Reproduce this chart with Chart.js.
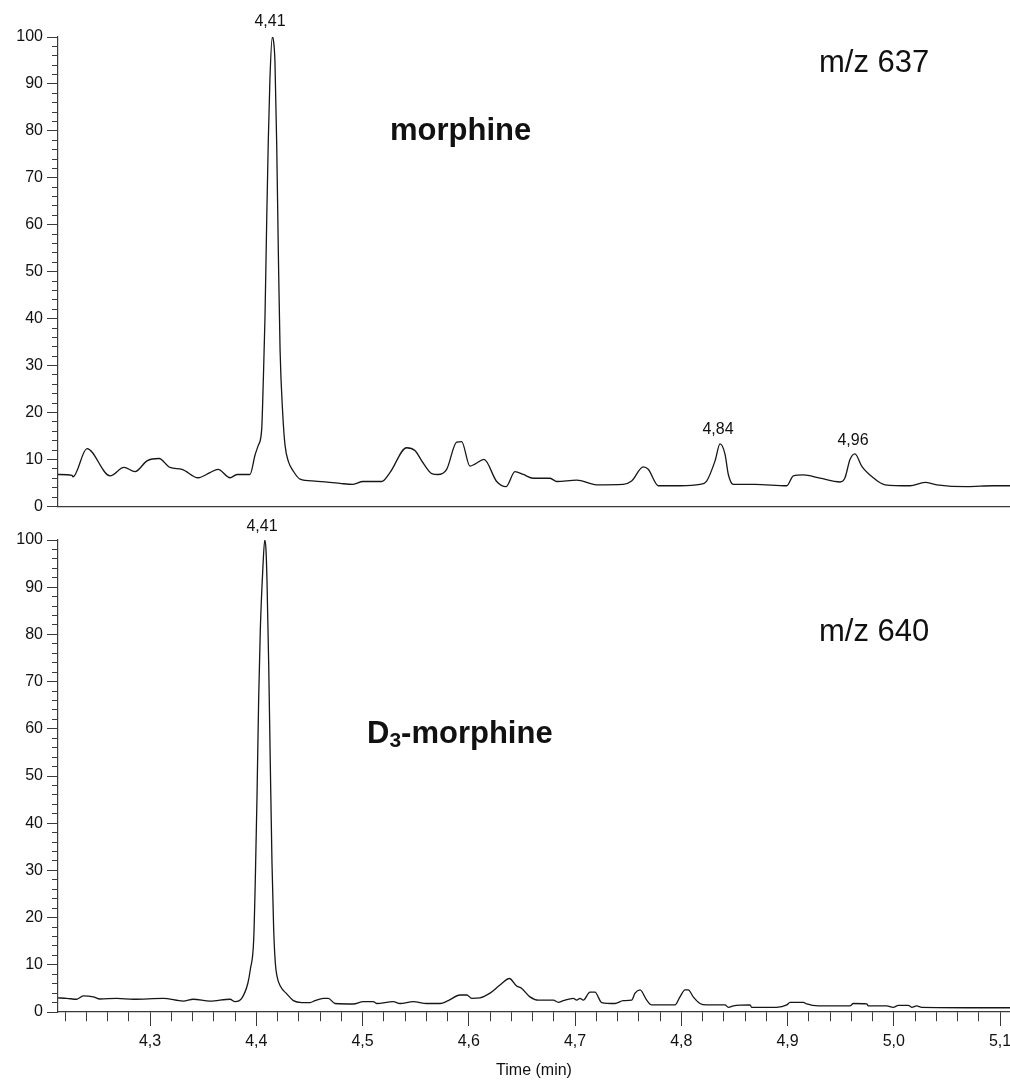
<!DOCTYPE html>
<html>
<head>
<meta charset="utf-8">
<title>morphine / D3-morphine chromatograms</title>
<script src="https://cdn.jsdelivr.net/npm/chart.js@4.4.1/dist/chart.umd.min.js"></script>
<style>
  html, body { margin: 0; padding: 0; background: #fff; overflow: hidden; }
  #wrap { position: relative; width: 1010px; height: 1082px; overflow: hidden; font-family: "Liberation Sans", Arial, sans-serif; color: #111; }
  canvas { position: absolute; left: 0; }
  #cTop { top: 0; }
  #cBot { top: 500px; }
  .lbl { position: absolute; line-height: 1; white-space: nowrap; }
  .rt  { font-size: 16px; transform: translateX(-50%); }
  .mz  { font-size: 31px; }
  .cmp { font-size: 31px; font-weight: bold; }
  .cmp span { font-size: 21px; position: relative; top: 4px; }
</style>
</head>
<body>
<div id="wrap">
  <canvas id="cTop" width="1030" height="520"></canvas>
  <canvas id="cBot" width="1030" height="582"></canvas>

  <div class="lbl rt" style="left:270px; top:13px;">4,41</div>
  <div class="lbl rt" style="left:718px; top:421px;">4,84</div>
  <div class="lbl rt" style="left:853px; top:432px;">4,96</div>
  <div class="lbl mz" style="left:819px; top:46px;">m/z 637</div>
  <div class="lbl cmp" style="left:390px; top:114px;">morphine</div>

  <div class="lbl rt" style="left:262px; top:518px;">4,41</div>
  <div class="lbl mz" style="left:819px; top:615px;">m/z 640</div>
  <div class="lbl cmp" style="left:367px; top:717px;">D<span>3</span>-morphine</div>
</div>

<script>
'use strict';

// ─── Data (retention time in min, relative abundance in %) ───
const tMin = 4.2134;
const tMax = 5.1094;

// m/z 637 — morphine
const topTime = [
  4.2134, 4.2266, 4.2275, 4.2407, 4.2624, 4.2755, 4.2859, 4.2972, 4.3085, 4.3188,
  4.3301, 4.3452, 4.3565, 4.3640, 4.3753, 4.3819, 4.3941, 4.3988, 4.4019, 4.4051,
  4.4066, 4.4082, 4.4098, 4.4113, 4.4129, 4.4151, 4.4160, 4.4176, 4.4192, 4.4208,
  4.4224, 4.4249, 4.4271, 4.4302, 4.4349, 4.4412, 4.4553, 4.4788, 4.4910, 4.5004,
  4.5180, 4.5258, 4.5415, 4.5493, 4.5569, 4.5651, 4.5710, 4.5792, 4.5886, 4.5933,
  4.6011, 4.6058, 4.6143, 4.6263, 4.6350, 4.6435, 4.6513, 4.6607, 4.6765, 4.6828,
  4.7016, 4.7204, 4.7454, 4.7533, 4.7642, 4.7689, 4.7784, 4.7988, 4.8176, 4.8239,
  4.8318, 4.8365, 4.8412, 4.8443, 4.8490, 4.8694, 4.8993, 4.9055, 4.9149, 4.9306,
  4.9494, 4.9541, 4.9588, 4.9635, 4.9698, 4.9807, 4.9918, 5.0153, 5.0294, 5.0404,
  5.0687, 5.0937, 5.1094
];
const topSignal = [
  6.8, 6.6, 6.3, 12.3, 6.5, 8.3, 7.4, 9.7, 10.2, 8.3,
  7.9, 6.1, 7.2, 7.9, 6.1, 6.8, 6.8, 10.9, 13.0, 16.4,
  26.6, 40.2, 60.6, 77.7, 91.3, 100, 99.5, 94.7, 77.7, 53.8,
  33.4, 19.8, 13.0, 9.6, 7.5, 5.8, 5.4, 4.9, 4.7, 5.3,
  5.3, 7.2, 12.5, 11.9, 9.3, 7.0, 6.8, 7.9, 13.7, 13.8,
  8.6, 9.0, 10.0, 5.3, 4.2, 7.4, 6.8, 6.0, 6.0, 5.3,
  5.6, 4.6, 4.7, 5.4, 8.4, 7.9, 4.4, 4.4, 4.7, 5.4,
  9.7, 13.3, 11.1, 6.8, 4.7, 4.7, 4.4, 6.5, 6.7, 6.0,
  5.2, 6.1, 10.0, 11.2, 8.6, 6.1, 4.6, 4.4, 5.1, 4.6,
  4.2, 4.4, 4.4
];

// m/z 640 — D3-morphine
const botTime = [
  4.2128, 4.2216, 4.2310, 4.2372, 4.2466, 4.2529, 4.2687, 4.2843, 4.3125, 4.3313,
  4.3407, 4.3565, 4.3753, 4.3800, 4.3863, 4.3922, 4.3944, 4.3976, 4.3991, 4.4007,
  4.4023, 4.4038, 4.4061, 4.4080, 4.4092, 4.4101, 4.4117, 4.4132, 4.4148, 4.4164,
  4.4179, 4.4195, 4.4226, 4.4289, 4.4349, 4.4428, 4.4506, 4.4553, 4.4631, 4.4678,
  4.4741, 4.4913, 4.5007, 4.5101, 4.5133, 4.5289, 4.5353, 4.5478, 4.5604, 4.5729,
  4.5807, 4.5918, 4.5981, 4.6028, 4.6106, 4.6200, 4.6294, 4.6382, 4.6451, 4.6498,
  4.6576, 4.6655, 4.6796, 4.6843, 4.6890, 4.6984, 4.7016, 4.7047, 4.7078, 4.7141,
  4.7188, 4.7251, 4.7376, 4.7454, 4.7533, 4.7565, 4.7612, 4.7675, 4.7722, 4.7941,
  4.7988, 4.8035, 4.8066, 4.8113, 4.8176, 4.8239, 4.8412, 4.8443, 4.8490, 4.8647,
  4.8662, 4.8897, 4.8993, 4.9024, 4.9149, 4.9181, 4.9290, 4.9588, 4.9619, 4.9745,
  4.9760, 4.9933, 4.9995, 5.0043, 5.0137, 5.0169, 5.0216, 5.0263, 5.1025, 5.1094
];
const botSignal = [
  3.0, 2.9, 2.7, 3.4, 3.2, 2.75, 2.9, 2.7, 2.9, 2.3,
  2.7, 2.3, 2.7, 2.2, 2.9, 6.2, 9.0, 15.4, 28.0, 45.6,
  66.8, 80.9, 93.5, 100, 97.7, 91.4, 73.8, 52.7, 31.6, 17.5,
  10.5, 7.6, 5.5, 3.8, 2.4, 2.0, 2.0, 2.4, 2.9, 2.9,
  1.8, 1.7, 2.2, 2.2, 1.8, 2.2, 1.8, 2.2, 1.8, 1.8,
  2.4, 3.6, 3.6, 2.9, 3.0, 4.0, 5.7, 7.1, 5.5, 5.0,
  3.2, 2.5, 2.5, 2.05, 2.4, 2.9, 2.5, 2.9, 2.5, 4.2,
  4.2, 2.0, 1.8, 2.4, 2.5, 4.0, 4.7, 2.5, 1.5, 1.5,
  3.2, 4.7, 4.7, 3.2, 1.8, 1.5, 1.5, 1.0, 1.3, 1.5,
  1.0, 1.0, 1.5, 2.05, 2.05, 1.7, 1.3, 1.3, 1.8, 1.7,
  1.3, 1.3, 1.0, 1.4, 1.4, 1.0, 1.3, 1.0, 0.9, 0.9
];

// ─── Helpers ────────────────────────────────────────────────
const INK = '#161616';
const AXIS = '#3a3a3a';
const FONT = "'Liberation Sans', Arial, sans-serif";

function toPoints(xs, ys) {
  return xs.map((x, i) => ({ x, y: ys[i] }));
}

function isMajorX(v) { return Math.abs(v * 10 - Math.round(v * 10)) < 1e-6; }
function isMajorY(v) { return Math.round(v) % 10 === 0; }

function yScale() {
  return {
    type: 'linear',
    min: 0,
    max: 100,
    afterFit: s => { s.width = 58; },
    ticks: {
      stepSize: 2,
      autoSkip: false,
      padding: 4,
      color: '#111',
      font: { family: FONT, size: 16 },
      callback: v => (isMajorY(v) ? String(v) : ''),
    },
    grid: {
      display: true,
      drawOnChartArea: false,
      drawTicks: true,
      tickLength: 11,
      tickColor: AXIS,
      tickWidth: 1,
      tickBorderDash: c => (c.tick && isMajorY(c.tick.value) ? [] : [6, 5]),
      tickBorderDashOffset: c => (c.tick && isMajorY(c.tick.value) ? 0 : 6),
    },
    border: { display: true, color: AXIS, width: 1.2 },
  };
}

function traceDataset(xs, ys) {
  return {
    data: toPoints(xs, ys),
    borderColor: INK,
    borderWidth: 1.3,
    pointRadius: 0,
    cubicInterpolationMode: 'monotone',
    fill: false,
  };
}

function baseOptions(xScale, padTop) {
  return {
    responsive: false,
    animation: false,
    parsing: false,
    layout: { padding: { top: padTop, right: 20, left: 0, bottom: 0 } },
    plugins: { legend: { display: false }, tooltip: { enabled: false } },
    scales: { x: xScale, y: yScale() },
  };
}

// ─── Top panel (m/z 637) ─────────────────────────────────────
new Chart(document.getElementById('cTop'), {
  type: 'line',
  data: { datasets: [traceDataset(topTime, topSignal)] },
  options: baseOptions({
    type: 'linear',
    min: tMin,
    max: tMax,
    afterFit: s => { s.height = 11; },
    ticks: { display: false },
    grid: { display: false },
    border: { display: true, color: AXIS, width: 1.2 },
  }, 37),
});

// ─── Bottom panel (m/z 640) ──────────────────────────────────
new Chart(document.getElementById('cBot'), {
  type: 'line',
  data: { datasets: [traceDataset(botTime, botSignal)] },
  options: baseOptions({
    type: 'linear',
    min: tMin,
    max: tMax,
    afterFit: s => { s.height = 70; },
    ticks: {
      stepSize: 0.02,
      includeBounds: false,
      autoSkip: false,
      maxRotation: 0,
      padding: 6,
      color: '#111',
      font: { family: FONT, size: 16 },
      callback: v => (isMajorX(v) ? v.toFixed(1).replace('.', ',') : ''),
    },
    grid: {
      display: true,
      drawOnChartArea: false,
      drawTicks: true,
      tickLength: 14,
      tickColor: AXIS,
      tickWidth: 1,
      tickBorderDash: c => (c.tick && isMajorX(c.tick.value) ? [] : [9, 100]),
    },
    border: { display: true, color: AXIS, width: 1.2 },
    title: {
      display: true,
      text: 'Time (min)',
      color: '#111',
      font: { family: FONT, size: 16 },
      padding: { top: 0, bottom: 2 },
    },
  }, 40),
});
</script>
</body>
</html>
